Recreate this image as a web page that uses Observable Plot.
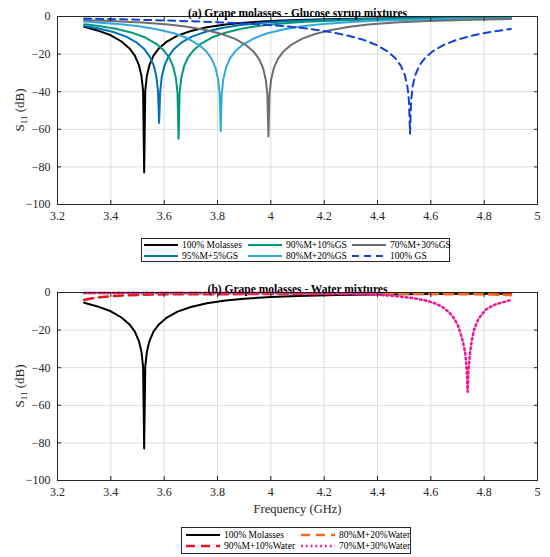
<!DOCTYPE html>
<html><head><meta charset="utf-8">
<script src="https://cdn.jsdelivr.net/npm/d3@7"></script>
<script src="https://cdn.jsdelivr.net/npm/@observablehq/plot@0.6"></script>
<style>
body{margin:0;background:#fff;}
#wrap{position:relative;width:550px;height:557px;font-family:"Liberation Serif","Times New Roman",serif;color:#262626;overflow:hidden;}
#wrap svg, #wrap svg text{font-family:"Liberation Serif","Times New Roman",serif !important;}
.panel{position:absolute;left:0;}
.legend{position:absolute;border:1px solid #262626;background:#fff;display:grid;grid-auto-flow:column;box-sizing:border-box;align-content:center;font-size:9.5px;color:#000;}
.item{display:flex;align-items:center;height:11px;white-space:nowrap;}
.item svg{margin-right:4px;flex:none;}
.ylab{position:absolute;white-space:nowrap;font-size:13px;color:#262626;transform:translate(-50%,-50%) rotate(-90deg);}
.ylab sub{font-size:9px;vertical-align:-3px;line-height:0;}
</style></head><body><div id="wrap"></div><script>
// ---------- data ----------
const xTicks = [3.2, 3.4, 3.6, 3.8, 4, 4.2, 4.4, 4.6, 4.8, 5];
const yTicks = [-100, -80, -60, -40, -20, 0];

const labelsA = ["100% Molasses", "95%M+5%GS", "90%M+10%GS", "80%M+20%GS", "70%M+30%GS", "100% GS"];
const labelsB = ["100% Molasses", "90%M+10%Water", "80%M+20%Water", "70%M+30%Water"];

// [frequency GHz, S11 dB]
const molasses = [[3.30,-5.5],[3.35,-7.4],[3.40,-10.0],[3.44,-13.3],[3.47,-17.0],[3.49,-20.8],[3.505,-25.7],[3.515,-31.7],[3.521,-39.6],[3.525,-83.0],[3.529,-39.6],[3.535,-31.7],[3.545,-25.7],[3.56,-20.8],[3.58,-17.0],[3.61,-13.3],[3.65,-10.2],[3.70,-7.7],[3.76,-5.7],[3.83,-4.3],[3.90,-3.3],[4.00,-2.4],[4.10,-1.8],[4.25,-1.3],[4.40,-1.0],[4.60,-0.8],[4.90,-0.6]];
const mix95gs = [[3.30,-5.0],[3.346,-6.1],[3.406,-8.1],[3.456,-10.6],[3.496,-13.7],[3.526,-17.4],[3.546,-21.3],[3.561,-26.1],[3.571,-32.1],[3.577,-40.1],[3.581,-56.6],[3.585,-40.1],[3.591,-32.1],[3.601,-26.1],[3.616,-21.3],[3.636,-17.4],[3.666,-13.7],[3.706,-10.6],[3.756,-8.1],[3.816,-6.1],[3.886,-4.5],[3.956,-3.5],[4.056,-2.5],[4.156,-2.0],[4.306,-1.4],[4.456,-1.1],[4.656,-0.8],[4.90,-0.7]];
const mix90gs = [[3.30,-4.1],[3.349,-4.9],[3.419,-6.5],[3.479,-8.6],[3.529,-11.2],[3.569,-14.4],[3.599,-18.1],[3.619,-21.9],[3.634,-26.7],[3.644,-32.8],[3.650,-40.7],[3.654,-65.0],[3.658,-40.7],[3.664,-32.8],[3.674,-26.7],[3.689,-21.9],[3.709,-18.1],[3.739,-14.4],[3.779,-11.2],[3.829,-8.6],[3.889,-6.5],[3.959,-4.9],[4.029,-3.8],[4.129,-2.8],[4.229,-2.2],[4.379,-1.6],[4.529,-1.2],[4.729,-0.9],[4.90,-0.8]];
const mix80gs = [[3.30,-2.7],[3.337,-3.0],[3.437,-4.1],[3.507,-5.2],[3.577,-6.9],[3.637,-8.9],[3.687,-11.6],[3.727,-14.8],[3.757,-18.4],[3.777,-22.3],[3.792,-27.2],[3.802,-33.2],[3.808,-41.1],[3.812,-61.0],[3.816,-41.1],[3.822,-33.2],[3.832,-27.2],[3.847,-22.3],[3.867,-18.4],[3.897,-14.8],[3.937,-11.6],[3.987,-8.9],[4.047,-6.9],[4.117,-5.2],[4.187,-4.1],[4.287,-3.0],[4.387,-2.3],[4.537,-1.7],[4.687,-1.3],[4.90,-1.0]];
const mix70gs = [[3.30,-1.9],[3.416,-2.5],[3.516,-3.2],[3.616,-4.3],[3.686,-5.4],[3.756,-7.2],[3.816,-9.3],[3.866,-11.9],[3.906,-15.1],[3.936,-18.8],[3.956,-22.7],[3.971,-27.5],[3.981,-33.6],[3.987,-41.5],[3.991,-63.8],[3.995,-41.5],[4.001,-33.6],[4.011,-27.5],[4.026,-22.7],[4.046,-18.8],[4.076,-15.1],[4.116,-11.9],[4.166,-9.3],[4.226,-7.2],[4.296,-5.4],[4.366,-4.3],[4.466,-3.2],[4.566,-2.5],[4.716,-1.8],[4.90,-1.3]];
const gs100 = [[3.30,-1.1],[3.447,-1.5],[3.647,-2.3],[3.797,-3.0],[3.947,-4.1],[4.047,-5.1],[4.147,-6.6],[4.217,-8.1],[4.287,-10.1],[4.347,-12.4],[4.397,-15.2],[4.437,-18.5],[4.467,-22.2],[4.487,-26.1],[4.502,-31.0],[4.512,-37.0],[4.518,-45.0],[4.522,-62.4],[4.526,-45.0],[4.532,-37.0],[4.542,-31.0],[4.557,-26.1],[4.577,-22.2],[4.607,-18.5],[4.647,-15.2],[4.697,-12.4],[4.757,-10.1],[4.827,-8.1],[4.90,-6.6]];

const water10 = [[3.30,-4.0],[3.33,-3.1],[3.36,-2.5],[3.40,-1.9],[3.45,-1.5],[3.52,-1.2],[3.60,-1.0],[3.80,-0.9],[4.00,-0.8],[4.40,-0.7],[4.90,-0.8]];
const water20 = [[3.30,-0.3],[3.80,-0.3],[4.20,-0.4],[4.40,-0.6],[4.60,-0.7],[4.80,-0.9],[4.90,-1.4]];
const water30 = [[3.30,-0.2],[3.60,-0.2],[3.90,-0.25],[4.10,-0.35],[4.25,-0.5],[4.37,-0.9],[4.46,-1.8],[4.53,-2.9],[4.585,-4.4],[4.62,-6.0],[4.647,-8.0],[4.668,-10.5],[4.685,-13.3],[4.70,-17.0],[4.71,-21.0],[4.72,-26.0],[4.729,-32.0],[4.735,-42.0],[4.738,-52.8],[4.741,-42.0],[4.747,-32.0],[4.753,-26.0],[4.76,-21.0],[4.768,-17.5],[4.779,-14.0],[4.795,-11.0],[4.81,-8.7],[4.83,-7.2],[4.848,-6.0],[4.875,-5.0],[4.90,-4.0]];

// ---------- styles ----------
const seriesA = [
  {label: labelsA[0], data: molasses, color: "#000000", width: 2, dash: null},
  {label: labelsA[1], data: mix95gs, color: "#0072BD", width: 2, dash: null},
  {label: labelsA[2], data: mix90gs, color: "#00997a", width: 2, dash: null},
  {label: labelsA[3], data: mix80gs, color: "#33a8e0", width: 2, dash: null},
  {label: labelsA[4], data: mix70gs, color: "#6e6e6e", width: 2, dash: null},
  {label: labelsA[5], data: gs100, color: "#1340d8", width: 2, dash: "7,5"}
];
const seriesB = [
  {label: labelsB[0], data: molasses, color: "#000000", width: 2, dash: null},
  {label: labelsB[1], data: water10, color: "#e6141b", width: 2.5, dash: "9,6"},
  {label: labelsB[2], data: water20, color: "#f26b1d", width: 2.5, dash: "9,6"},
  {label: labelsB[3], data: water30, color: "#f0149b", width: 2.5, dash: "1.8,3"}
];

const fmtX = d => String(d);
const fmtY = d => d < 0 ? "\u2212" + (-d) : String(d);
const serif = "'Liberation Serif','Times New Roman',serif";

function panel(series, title, xLabel, height, marginBottom) {
  const marks = [
    Plot.gridX(xTicks, {stroke: "#dcdcdc", strokeOpacity: 1}),
    Plot.gridY(yTicks, {stroke: "#dcdcdc", strokeOpacity: 1}),
    ...series.map(s => Plot.line(s.data, {x: d => d[0], y: d => d[1], stroke: s.color, strokeWidth: s.width, strokeDasharray: s.dash})),
    Plot.frame({stroke: "#262626"}),
    Plot.axisX(xTicks, {anchor: "bottom", tickSize: 0, tickPadding: 7, tickFormat: fmtX, fontSize: 12, fontFamily: serif, label: null, fill: "#262626"}),
    Plot.axisY(yTicks, {anchor: "left", tickSize: 0, tickPadding: 7, tickFormat: fmtY, fontSize: 12, fontFamily: serif, label: null, fill: "#262626"}),
    Plot.axisX(xTicks, {anchor: "bottom", tickSize: 4, dy: -4, fill: "none", label: null, stroke: "#262626"}),
    Plot.axisX(xTicks, {anchor: "top", tickSize: 4, dy: 4, fill: "none", label: null, stroke: "#262626"}),
    Plot.axisY(yTicks, {anchor: "left", tickSize: 4, dx: 4, fill: "none", label: null, stroke: "#262626"}),
    Plot.axisY(yTicks, {anchor: "right", tickSize: 4, dx: -4, fill: "none", label: null, stroke: "#262626"}),
    Plot.text([title], {text: d => d, frameAnchor: "top", dy: -8, fontWeight: "bold", fontSize: 11.5, fontFamily: serif, fill: "#000"})
  ];
  if (xLabel) marks.push(Plot.text([xLabel], {text: d => d, frameAnchor: "bottom", dy: 32, fontSize: 12.5, fontFamily: serif, fill: "#262626"}));
  return Plot.plot({
    width: 550, height, marginLeft: 57, marginRight: 13, marginTop: 16, marginBottom,
    x: {domain: [3.2, 5]}, y: {domain: [-100, 0]},
    style: {fontFamily: serif, fontSize: "12px", color: "#262626", background: "transparent"},
    marks
  });
}

const wrap = document.getElementById("wrap");
const a = panel(seriesA, "(a) Grape molasses - Glucose syrup mixtures", null, 228, 24);
a.classList.add("panel"); a.style.top = "0px";
wrap.appendChild(a);
const b = panel(seriesB, "(b) Grape molasses - Water mixtures", "Frequency (GHz)", 246, 42);
b.classList.add("panel"); b.style.top = "276px";
wrap.appendChild(b);

function ylab(top) {
  const d = document.createElement("div");
  d.className = "ylab";
  d.style.left = "20px"; d.style.top = top + "px";
  d.innerHTML = "S<sub>11</sub> (dB)";
  wrap.appendChild(d);
}
ylab(110); ylab(386);

function legend(series, left, top, w, h, colW, padL) {
  const L = document.createElement("div");
  L.className = "legend";
  Object.assign(L.style, {left: left + "px", top: top + "px", width: w + "px", height: h + "px",
    gridTemplateRows: "11px 11px", gridTemplateColumns: `repeat(${Math.ceil(series.length / 2)}, ${colW}px)`, paddingLeft: padL + "px"});
  series.forEach(s => {
    const it = document.createElement("div");
    it.className = "item";
    const ns = "http://www.w3.org/2000/svg";
    const sv = document.createElementNS(ns, "svg");
    sv.setAttribute("width", 34); sv.setAttribute("height", 6);
    const ln = document.createElementNS(ns, "line");
    ln.setAttribute("x1", 0); ln.setAttribute("x2", 34); ln.setAttribute("y1", 3); ln.setAttribute("y2", 3);
    ln.setAttribute("stroke", s.color); ln.setAttribute("stroke-width", s.width);
    if (s.dash) ln.setAttribute("stroke-dasharray", s.dash);
    sv.appendChild(ln);
    it.appendChild(sv);
    const t = document.createElement("span");
    t.textContent = s.label;
    it.appendChild(t);
    L.appendChild(it);
  });
  wrap.appendChild(L);
}
legend(seriesA, 141, 238, 309, 24, 104, 2);
legend(seriesB, 181, 527, 230, 27, 115, 4);
</script></body></html>
